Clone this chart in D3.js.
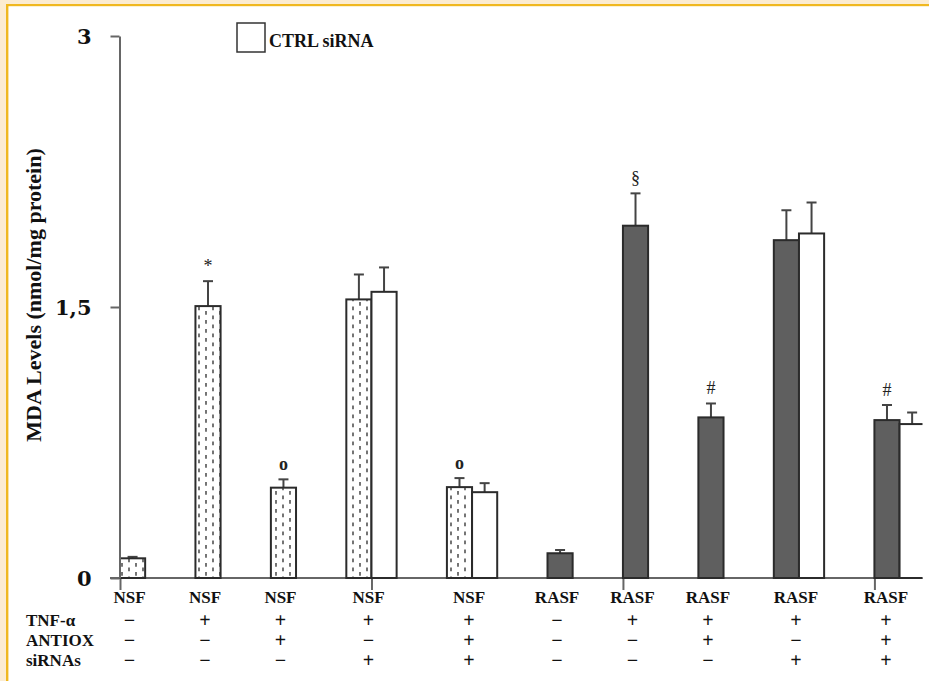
<!DOCTYPE html>
<html>
<head>
<meta charset="utf-8">
<script src="https://cdn.jsdelivr.net/npm/d3@7"></script>
<style>
  html, body { margin: 0; padding: 0; background: #fcecd1; }
  svg { display: block; }
  .serif { font-family: "Liberation Serif", "Times New Roman", serif; font-weight: bold; fill: #111; }
</style>
</head>
<body>
<script>
// Cell lines and treatment table
const cellLines = ["NSF", "NSF", "NSF", "NSF", "NSF", "RASF", "RASF", "RASF", "RASF", "RASF"];
const tnfAlpha  = ["−", "+", "+", "+", "+", "−", "+", "+", "+", "+"];
const antiox    = ["−", "−", "+", "−", "+", "−", "−", "+", "−", "+"];
const siRNAs    = ["−", "−", "−", "+", "+", "−", "−", "−", "+", "+"];
const rowLabels = ["TNF-α", "ANTIOX", "siRNAs"];

// MDA levels (nmol/mg protein), mean and SD
const mdaMean   = [0.109, 1.505, 0.50, 1.542, 0.503, 0.137, 1.95, 0.889, 1.87, 0.874];
const mdaErr    = [0.008, 0.138, 0.046, 0.138, 0.05, 0.018, 0.179, 0.077, 0.166, 0.083];
// CTRL siRNA bars (only where siRNAs were used)
const ctrlMean  = [null, null, null, 1.584, 0.475, null, null, null, 1.907, 0.852];
const ctrlErr   = [null, null, null, 0.135, 0.05, null, null, null, 0.172, 0.064];
// Significance marks
const sigMarks  = ["", "*", "o", "", "o", "", "§", "#", "", "#"];

const yTicks = [0, 1.5, 3];
const yTickLabels = ["0", "1,5", "3"];

const W = 929, H = 681;
const svg = d3.select("body").append("svg").attr("width", W).attr("height", H);

// page frame
svg.append("rect").attr("x", 8).attr("y", 6).attr("width", W - 8).attr("height", H - 6).attr("fill", "#fff");
svg.append("rect").attr("x", 6).attr("y", 4).attr("width", W - 6).attr("height", 2.2).attr("fill", "#f0b820");
svg.append("rect").attr("x", 6).attr("y", 4).attr("width", 2.4).attr("height", H - 4).attr("fill", "#f0b820");

const defs = svg.append("defs");
const pat = defs.append("pattern").attr("id", "dots")
  .attr("patternUnits", "userSpaceOnUse").attr("width", 14).attr("height", 9);
pat.append("rect").attr("width", 14).attr("height", 9).attr("fill", "#fff");
pat.append("line").attr("x1", 3).attr("x2", 3).attr("y1", 0.5).attr("y2", 4.2)
  .attr("stroke", "#5c5c5c").attr("stroke-width", 1.7);
pat.append("line").attr("x1", 10).attr("x2", 10).attr("y1", 5).attr("y2", 8.7)
  .attr("stroke", "#5c5c5c").attr("stroke-width", 1.7);
defs.append("clipPath").attr("id", "plotClip")
  .append("rect").attr("x", 0).attr("y", 0).attr("width", 922.5).attr("height", H);

// layout: each group takes (bars + 2) bar-width units
const starts = [];
let u = 0;
cellLines.forEach((_, i) => {
  const n = ctrlMean[i] == null ? 1 : 2;
  starts.push({ s: u, n });
  u += n + 2;
});

const x = d3.scaleLinear().domain([0, 34]).range([120, 975]);
const y = d3.scaleLinear().domain([0, 3]).range([578, 36]);

const plot = svg.append("g").attr("clip-path", "url(#plotClip)");

// x baseline with downward marks every 10 units
plot.append("line").attr("x1", x(0) - 10).attr("x2", x(34)).attr("y1", y(0)).attr("y2", y(0))
  .attr("stroke", "#666").attr("stroke-width", 2);
const xAxis = plot.append("g").attr("transform", `translate(0,${y(0)})`)
  .call(d3.axisBottom(x).tickValues([0, 10, 20, 30]).tickSize(12).tickFormat(""));
xAxis.select(".domain").remove();
xAxis.selectAll(".tick line").attr("stroke", "#666").attr("stroke-width", 2);

// y axis
const yAxis = svg.append("g").attr("transform", `translate(${x(0) - 0.5},0)`)
  .call(d3.axisLeft(y).tickValues(yTicks).tickSize(9).tickSizeOuter(0)
    .tickFormat((d, i) => yTickLabels[i]));
yAxis.select(".domain").attr("stroke", "#666").attr("stroke-width", 2);
yAxis.selectAll(".tick line").attr("stroke", "#666").attr("stroke-width", 2);
yAxis.selectAll(".tick text")
  .attr("x", -28).attr("dy", "0.36em")
  .style("font-family", "'DejaVu Serif', serif").style("font-weight", "bold")
  .style("font-size", "21px").attr("fill", "#111");

svg.append("text").attr("class", "serif")
  .attr("transform", "translate(41,295) rotate(-90)")
  .attr("text-anchor", "middle").style("font-size", "22px")
  .text("MDA Levels (nmol/mg protein)");

// bars
const bw = x(1) - x(0);
function drawBar(g, u0, val, err, fill) {
  g.append("line")
    .attr("x1", x(u0) + bw / 2).attr("x2", x(u0) + bw / 2)
    .attr("y1", y(val)).attr("y2", y(val + err))
    .attr("stroke", "#444").attr("stroke-width", 2);
  g.append("line")
    .attr("x1", x(u0) + bw / 2 - 5).attr("x2", x(u0) + bw / 2 + 5)
    .attr("y1", y(val + err)).attr("y2", y(val + err))
    .attr("stroke", "#444").attr("stroke-width", 2);
  g.append("rect")
    .attr("x", x(u0)).attr("y", y(val))
    .attr("width", bw).attr("height", y(0) - y(val))
    .attr("fill", fill).attr("stroke", "#2b2b2b").attr("stroke-width", 2);
}

const bars = plot.append("g");
cellLines.forEach((c, i) => {
  const { s } = starts[i];
  const fill = c === "NSF" ? "url(#dots)" : "#5f5f5f";
  drawBar(bars, s, mdaMean[i], mdaErr[i], fill);
  if (ctrlMean[i] != null) drawBar(bars, s + 1, ctrlMean[i], ctrlErr[i], "#fff");
  if (sigMarks[i]) {
    bars.append("text")
      .attr("x", x(s) + bw / 2).attr("y", y(mdaMean[i] + mdaErr[i]) - 9)
      .attr("text-anchor", "middle")
      .style("font-family", "'Liberation Serif', serif").style("font-size", "18px")
      .style("font-weight", sigMarks[i] === "o" ? "bold" : "normal")
      .attr("fill", "#222").text(sigMarks[i]);
  }
});

// category labels and treatment table
const colX = starts.map(({ s, n }) => Math.min(x(s + n / 2) - 3, W - 43));
svg.selectAll("text.cat").data(cellLines).join("text")
  .attr("class", "serif cat").attr("x", (d, i) => colX[i]).attr("y", 603)
  .attr("text-anchor", "middle").style("font-size", "17px").text(d => d);

const rows = [tnfAlpha, antiox, siRNAs];
const rowY = [626, 646, 666];
rows.forEach((row, r) => {
  svg.append("text").attr("class", "serif").attr("x", 26).attr("y", rowY[r])
    .style("font-size", "17px").text(rowLabels[r]);
  svg.selectAll(null).data(row).join("text")
    .attr("class", "serif").attr("x", (d, i) => colX[i]).attr("y", rowY[r] + 1)
    .attr("text-anchor", "middle").style("font-size", "20px").text(d => d);
});

// legend
svg.append("rect").attr("x", 237).attr("y", 23).attr("width", 28).attr("height", 29)
  .attr("fill", "#fff").attr("stroke", "#333").attr("stroke-width", 1.5);
svg.append("text").attr("class", "serif").attr("x", 269).attr("y", 47)
  .style("font-size", "18px").text("CTRL siRNA");
</script>
</body>
</html>
